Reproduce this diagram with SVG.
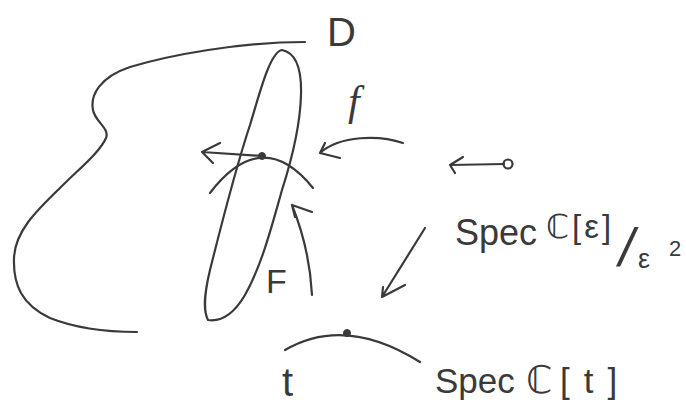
<svg xmlns="http://www.w3.org/2000/svg" width="686" height="405" viewBox="0 0 686 405">
<style>
.s{fill:none;stroke:#3a3a3a;stroke-width:2.2;stroke-linecap:round;stroke-linejoin:round}
.t{fill:#3a3a3a;font-family:"Liberation Sans","DejaVu Sans",sans-serif}
.dot{fill:#3a3a3a;stroke:#3a3a3a;stroke-width:1}
</style>
<rect width="686" height="405" fill="#ffffff"/>
<g id="D-region">
<path class="s" d="M305,42 C240,42 170,55 130,67 C100,77 90,95 93,110 C95,122 110,128 106,138 C100,152 80,168 60,188 C35,212 15,232 14,258 C13,285 22,305 50,318 C80,330 115,332 137,332"/>
<text class="t" x="327" y="46" font-size="40">D</text>
</g>
<g id="F-fibre">
<path class="s" d="M282,50 C292,52 302,62 301,95 C300,130 290,165 282,190 C272,225 262,265 245,295 C235,312 222,322 208,320 C203,310 204,295 210,270 C220,230 235,170 250,125 C260,92 270,52 282,50 Z"/>
<text class="t" x="266" y="293" font-size="34">F</text>
</g>
<g id="arc-top">
<path class="s" d="M210,193 Q262,125 313,188"/>
<circle class="dot" cx="262" cy="156" r="3.5"/>
</g>
<g id="arc-bottom">
<path class="s" d="M285,350 Q345,315 420,362"/>
<circle class="dot" cx="347" cy="333" r="3.5"/>
<text class="t" x="282" y="396" font-size="40">t</text>
</g>
<g id="f-label">
<text x="348" y="115" font-size="42" font-style="italic" fill="#3a3a3a" font-family="Liberation Serif, serif">f</text>
</g>
<g id="spec-eps">
<text class="t" font-size="36"><tspan x="455" y="245">Spec</tspan><tspan x="546" y="238" font-size="33" letter-spacing="3">ℂ[ε]</tspan><tspan x="619" y="266" font-size="54" font-style="italic">/</tspan><tspan x="638" y="268" font-size="27">ε</tspan><tspan x="669" y="256" font-size="22">2</tspan></text>
</g>
<g id="spec-t">
<text class="t" font-size="35"><tspan x="435" y="393">Spec</tspan><tspan x="526" y="393" font-size="38">ℂ</tspan><tspan x="560" y="393" letter-spacing="14">[t]</tspan></text>
</g>
<g id="connectors">
<path class="s" d="M262,156 L202,152 M220,143 L202,152 L213,163"/>
<path class="s" d="M312,295 C310,255 300,225 292,205 M312,212 L292,205 L295,217"/>
<path class="s" d="M403,143 C380,135 340,135 320,153 M325,143 L320,153 L340,158"/>
<path class="s" d="M504,164 L450,165 M463,157 L450,165 L455,173"/>
<circle class="s" cx="508" cy="164" r="4.5"/>
<path class="s" d="M425,228 L382,297 M405,285 L382,297 L383,287"/>
</g>
</svg>
